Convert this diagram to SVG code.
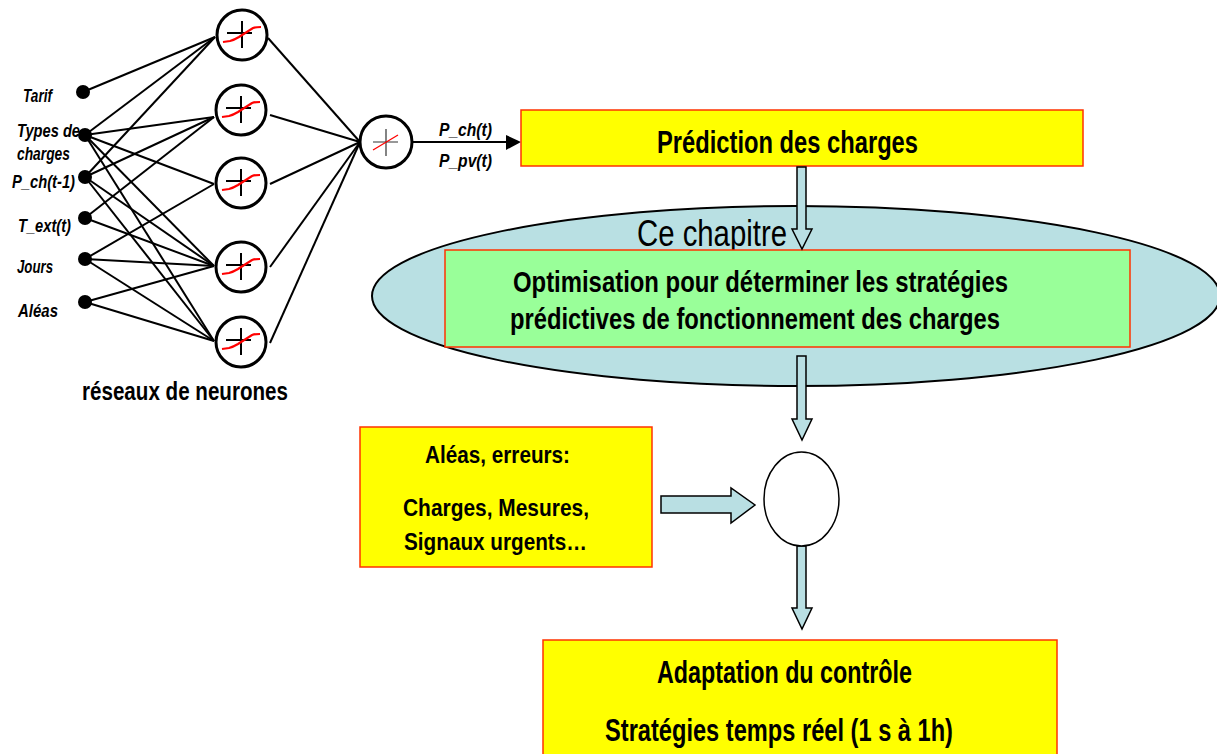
<svg xmlns="http://www.w3.org/2000/svg" width="1217" height="754" viewBox="0 0 1217 754">
<defs>
<style>
.lbl{font-family:"Liberation Sans",Arial,sans-serif;font-weight:bold;font-style:italic;font-size:18px;fill:#000}
.bt{font-family:"Liberation Sans",Arial,sans-serif;font-weight:bold;fill:#000}
.edge{stroke:#000;stroke-width:2;fill:none}
.neuron{fill:#fff;stroke:#000;stroke-width:3}
.cross{stroke:#000;stroke-width:2;fill:none}
.sig{stroke:#f00;stroke-width:2.2;fill:none}
.dot{fill:#000}
.yel{fill:#ffff00;stroke:#ff3300;stroke-width:1.5}
.blk{fill:#b9dfe3;stroke:#000;stroke-width:1.5;stroke-linejoin:miter}
</style>
<g id="sigmoid">
<path class="cross" d="M0,-14 V13 M-15,-2 H10"/>
<path class="sig" d="M-19,7 L-12,6 Q-8,5 -3,2 L11,-7 Q14,-8 19,-8"/>
</g>
</defs>
<rect width="1217" height="754" fill="#fff"/>

<g id="connectors">
<line class="edge" x1="83" y1="92" x2="215" y2="37"/>
<line class="edge" x1="85" y1="135" x2="215" y2="37"/>
<line class="edge" x1="85" y1="135" x2="214" y2="117"/>
<line class="edge" x1="85" y1="135" x2="214" y2="184"/>
<line class="edge" x1="85" y1="135" x2="214" y2="266"/>
<line class="edge" x1="85" y1="135" x2="214" y2="341"/>
<line class="edge" x1="85" y1="177" x2="215" y2="37"/>
<line class="edge" x1="85" y1="177" x2="214" y2="117"/>
<line class="edge" x1="85" y1="177" x2="214" y2="266"/>
<line class="edge" x1="85" y1="177" x2="214" y2="341"/>
<line class="edge" x1="85" y1="218" x2="214" y2="117"/>
<line class="edge" x1="85" y1="218" x2="214" y2="266"/>
<line class="edge" x1="85" y1="259" x2="214" y2="184"/>
<line class="edge" x1="85" y1="259" x2="214" y2="266"/>
<line class="edge" x1="85" y1="259" x2="214" y2="341"/>
<line class="edge" x1="85" y1="302" x2="214" y2="266"/>
<line class="edge" x1="85" y1="302" x2="214" y2="341"/>
<line class="edge" x1="268" y1="38" x2="360" y2="142"/>
<line class="edge" x1="270" y1="115" x2="360" y2="142"/>
<line class="edge" x1="270" y1="184" x2="360" y2="142"/>
<line class="edge" x1="270" y1="267" x2="360" y2="142"/>
<line class="edge" x1="270" y1="343" x2="360" y2="142"/>
<line class="edge" x1="412" y1="142" x2="508" y2="142"/>
<polygon points="506,135 521,142 506,150" fill="#000"/>
</g>

<g id="inputs">
<circle class="dot" cx="83" cy="92" r="7"/>
<circle class="dot" cx="85" cy="135" r="7"/>
<circle class="dot" cx="85" cy="177" r="7"/>
<circle class="dot" cx="85" cy="218" r="7"/>
<circle class="dot" cx="85" cy="259" r="7"/>
<circle class="dot" cx="85" cy="302" r="7"/>
<text class="lbl" x="23" y="102" textLength="29" lengthAdjust="spacingAndGlyphs">Tarif</text>
<text class="lbl" x="17" y="137" textLength="63" lengthAdjust="spacingAndGlyphs">Types de</text>
<text class="lbl" x="17" y="160" textLength="53" lengthAdjust="spacingAndGlyphs">charges</text>
<text class="lbl" x="12" y="188" textLength="63" lengthAdjust="spacingAndGlyphs">P_ch(t-1)</text>
<text class="lbl" x="18" y="232" textLength="53" lengthAdjust="spacingAndGlyphs">T_ext(t)</text>
<text class="lbl" x="17" y="273" textLength="36" lengthAdjust="spacingAndGlyphs">Jours</text>
<text class="lbl" x="18" y="317" textLength="40" lengthAdjust="spacingAndGlyphs">Aléas</text>
</g>

<g id="neuron1"><circle class="neuron" cx="242" cy="35" r="25"/><use href="#sigmoid" x="242" y="35"/></g>
<g id="neuron2"><circle class="neuron" cx="241" cy="110" r="25"/><use href="#sigmoid" x="241" y="110"/></g>
<g id="neuron3"><circle class="neuron" cx="241" cy="183" r="25"/><use href="#sigmoid" x="241" y="183"/></g>
<g id="neuron4"><circle class="neuron" cx="241" cy="267" r="25"/><use href="#sigmoid" x="241" y="267"/></g>
<g id="neuron5"><circle class="neuron" cx="241" cy="342" r="25"/><use href="#sigmoid" x="241" y="342"/></g>

<g id="output-neuron">
<circle class="neuron" cx="386" cy="142" r="26"/>
<path d="M386,129 V156 M373,142 H398" stroke="#333" stroke-width="1.2" fill="none"/>
<line x1="373" y1="150" x2="398" y2="135" stroke="#f00" stroke-width="1.3"/>
</g>

<g id="nn-title">
<text class="bt" x="82" y="400" font-size="25" textLength="206" lengthAdjust="spacingAndGlyphs">réseaux de neurones</text>
</g>

<g id="outputs-labels">
<text class="lbl" x="439" y="136" font-size="17" textLength="53" lengthAdjust="spacingAndGlyphs">P_ch(t)</text>
<text class="lbl" x="439" y="167" font-size="17" textLength="53" lengthAdjust="spacingAndGlyphs">P_pv(t)</text>
</g>

<g id="prediction">
<rect class="yel" x="521" y="110" width="562" height="56"/>
<text class="bt" x="657" y="153" font-size="31" textLength="261" lengthAdjust="spacingAndGlyphs">Prédiction des charges</text>
</g>

<g id="chapitre">
<ellipse cx="796" cy="296" rx="424" ry="90" fill="#b9e0e3" stroke="#000" stroke-width="2"/>
<text x="637" y="246" font-family="Liberation Sans, Arial, sans-serif" font-size="37" textLength="150" lengthAdjust="spacingAndGlyphs" fill="#000">Ce chapitre</text>
</g>

<g id="optimisation">
<rect x="445" y="250" width="685" height="97" fill="#99ff99" stroke="#ff3300" stroke-width="1.5"/>
<text class="bt" x="513" y="292" font-size="30" textLength="495" lengthAdjust="spacingAndGlyphs">Optimisation pour déterminer les stratégies</text>
<text class="bt" x="510" y="329" font-size="30" textLength="490" lengthAdjust="spacingAndGlyphs">prédictives de fonctionnement des charges</text>
</g>

<g id="block-arrows">
<polygon class="blk" points="797,167 806,167 806,229 812,229 802,249 792,229 797,229"/>
<polygon class="blk" points="797,356 806,356 806,419 812,419 802,440 792,419 797,419"/>
<polygon class="blk" points="797,546 806,546 806,608 812,608 802,629 792,608 797,608"/>
<polygon class="blk" points="661,496 731,496 731,488 755,505 731,523 731,513 661,513"/>
</g>

<g id="sum">
<ellipse cx="801.5" cy="499" rx="37.5" ry="47" fill="#fff" stroke="#000" stroke-width="1.5"/>
</g>

<g id="aleas">
<rect class="yel" x="360" y="427" width="292" height="140"/>
<text class="bt" x="425" y="463" font-size="24" textLength="145" lengthAdjust="spacingAndGlyphs">Aléas, erreurs:</text>
<text class="bt" x="403" y="516" font-size="24" textLength="186" lengthAdjust="spacingAndGlyphs">Charges, Mesures,</text>
<text class="bt" x="404" y="550" font-size="24" textLength="183" lengthAdjust="spacingAndGlyphs">Signaux urgents…</text>
</g>

<g id="adaptation">
<rect class="yel" x="543" y="640" width="514" height="120"/>
<text class="bt" x="657" y="683" font-size="31" textLength="255" lengthAdjust="spacingAndGlyphs">Adaptation du contrôle</text>
<text class="bt" x="605" y="741" font-size="31" textLength="348" lengthAdjust="spacingAndGlyphs">Stratégies temps réel (1 s à 1h)</text>
</g>
</svg>
